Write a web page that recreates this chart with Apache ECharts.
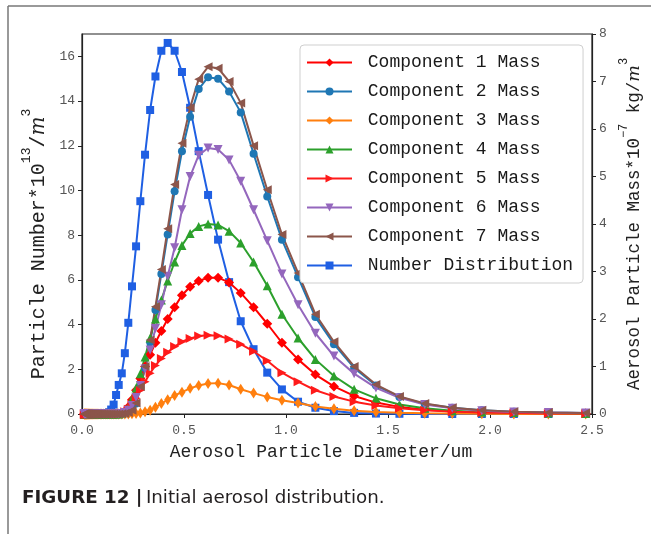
<!DOCTYPE html>
<html>
<head>
<meta charset="utf-8">
<script src="https://cdn.jsdelivr.net/npm/echarts@6/dist/echarts.min.js"></script>
<style>
html,body{margin:0;padding:0;background:#fff;}
#chart{width:651px;height:534px;}
</style>
</head>
<body>
<div id="chart"></div>
<script>
// Aerosol particle diameter (um) - sample points
const diameters = [0.011,0.012,0.013,0.014,0.016,0.017,0.018,0.020,0.021,0.023,
  0.025,0.027,0.029,0.031,0.033,0.036,0.039,0.042,0.045,0.049,
  0.053,0.057,0.061,0.066,0.072,0.077,0.083,0.090,0.097,0.105,
  0.114,0.123,0.133,0.143,0.155,0.167,0.180,0.195,0.210,0.227,
  0.245,0.265,0.286,0.309,0.334,0.360,0.389,0.420,0.454,0.490,
  0.530,0.572,0.618,0.667,0.721,0.778,0.841,0.908,0.980,1.059,
  1.144,1.235,1.334,1.441,1.556,1.680,1.815,1.960,2.117,2.286,2.469];

// Particle number (x1e13 /m^3), left axis
const numberDistribution = [0,0,0,0,0,0,0,0,0,0, 0,0,0,0,0,0,0,0,0,0, 0,0,0,0,0,0,0,0,0,0,
  0.01,0.03,0.08,0.2,0.42,0.85,1.3,1.82,2.72,4.08,
  5.71,7.5,9.52,11.6,13.6,15.1,16.25,16.6,16.25,15.3,
  13.7,11.76,9.8,7.8,5.9,4.15,2.9,1.85,1.1,0.55,
  0.28,0.13,0.05,0.02,0.01,0,0,0,0,0,0];

// Component masses (x1e-7 kg/m^3), right axis
const comp1 = [0,0,0,0,0,0,0,0,0,0, 0,0,0,0,0,0,0,0,0,0, 0,0,0,0,0,0,0,0,0,0, 0,0,0,0,0,0,0,
  0.02,0.06,0.15,0.3,0.5,0.75,1.0,1.25,1.5,1.75,2.0,2.25,2.5,2.68,2.8,2.87,2.87,2.77,2.55,2.25,1.9,1.5,1.15,0.83,0.58,0.38,0.24,0.15,0.09,0.05,0.03,0.02,0.01,0.01];
const comp2 = [0,0,0,0,0,0,0,0,0,0, 0,0,0,0,0,0,0,0,0,0, 0,0,0,0,0,0,0,0,0,0, 0,0,0,0,0,0,0,
  0.005,0.01,0.03,0.08,0.22,0.56,0.97,1.51,2.19,2.95,3.78,4.69,5.53,6.26,6.84,7.09,7.06,6.79,6.35,5.48,4.58,3.67,2.88,2.04,1.47,0.97,0.6,0.36,0.21,0.13,0.08,0.05,0.03,0.02];
const comp3 = [0,0,0,0,0,0,0,0,0,0, 0,0,0,0,0,0,0,0,0,0, 0,0,0,0,0,0,0,0,0,0, 0,0,0,0,0,0,0,
  0,0,0,0.005,0.01,0.02,0.05,0.08,0.14,0.22,0.3,0.39,0.46,0.54,0.6,0.64,0.65,0.61,0.52,0.44,0.36,0.29,0.23,0.16,0.11,0.07,0.04,0.025,0.015,0.01,0.005,0,0,0];
const comp4 = [0,0,0,0,0,0,0,0,0,0, 0,0,0,0,0,0,0,0,0,0, 0,0,0,0,0,0,0,0,0,0, 0,0,0,0,0,0,0,
  0.02,0.06,0.15,0.32,0.55,0.85,1.2,1.6,2.0,2.4,2.8,3.2,3.55,3.8,3.95,4.0,3.98,3.85,3.6,3.2,2.7,2.1,1.6,1.15,0.8,0.52,0.33,0.2,0.12,0.07,0.04,0.03,0.02,0.01];
const comp5 = [0,0,0,0,0,0,0,0,0,0, 0,0,0,0,0,0,0,0,0,0, 0,0,0,0,0,0,0,0,0,0, 0,0,0,0,0,0,0,
  0.02,0.05,0.1,0.2,0.33,0.5,0.68,0.86,1.02,1.17,1.3,1.42,1.52,1.59,1.64,1.66,1.65,1.58,1.47,1.32,1.12,0.87,0.68,0.5,0.37,0.26,0.18,0.12,0.08,0.05,0.03,0.02,0.01,0.01];
const comp6 = [0,0,0,0,0,0,0,0,0,0, 0,0,0,0,0,0,0,0,0,0, 0,0,0,0,0,0,0,0,0,0, 0,0,0,0,0,0,0,
  0.01,0.03,0.08,0.18,0.35,0.6,0.95,1.35,1.8,2.3,2.9,3.5,4.3,5.0,5.45,5.6,5.57,5.35,4.9,4.3,3.65,2.95,2.3,1.7,1.22,0.85,0.55,0.34,0.2,0.12,0.07,0.04,0.03,0.02];
const comp7 = [0,0,0,0,0,0,0,0,0,0, 0,0,0,0,0,0,0,0,0,0, 0,0,0,0,0,0,0,0,0,0, 0,0,0,0,0,0,0,
  0.005,0.01,0.03,0.08,0.23,0.58,1.0,1.56,2.26,3.04,3.9,4.83,5.7,6.45,7.05,7.31,7.28,7.0,6.55,5.65,4.72,3.78,2.97,2.1,1.52,1.0,0.62,0.37,0.22,0.13,0.08,0.05,0.03,0.02];

const seriesNames = ['Component 1 Mass','Component 2 Mass','Component 3 Mass','Component 4 Mass',
  'Component 5 Mass','Component 6 Mass','Component 7 Mass','Number Distribution'];
const xTicks = [0, 0.5, 1.0, 1.5, 2.0, 2.5];

const MONO = 'Liberation Mono, DejaVu Sans Mono, monospace';
const pair = arr => diameters.map((d, i) => [d, arr[i]]);

function mk(name, data, axis, color, symbol, size, rotate, z) {
  return {
    name: name, type: 'line', yAxisIndex: axis, data: pair(data),
    symbol: symbol, symbolSize: size, symbolRotate: rotate || 0,
    showSymbol: true, showAllSymbol: true,
    lineStyle: {color: color, width: 2},
    itemStyle: {color: color, borderWidth: 0},
    emphasis: {disabled: true}, z: z, animation: false
  };
}

const chart = echarts.init(document.getElementById('chart'), null, {renderer: 'canvas'});
const option = {
  animation: false,
  backgroundColor: '#fff',
  grid: {left: 82, right: 58, top: 34, bottom: 120, show: true, borderColor: '#222', borderWidth: 1.2, backgroundColor: 'transparent'},
  legend: {
    data: seriesNames, orient: 'vertical', left: 300, top: 45,
    padding: [8, 10, 8, 6], itemWidth: 45, itemHeight: 10, itemGap: 10,
    borderColor: '#cfcfcf', borderWidth: 1, borderRadius: 4, backgroundColor: '#fff',
    formatter: n => ' ' + n,
    textStyle: {fontFamily: MONO, fontSize: 18, color: '#1a1a1a', lineHeight: 19},
    selectedMode: false
  },
  xAxis: {
    type: 'value', min: 0, max: 2.5, interval: 0.5,
    name: 'Aerosol Particle Diameter/um', nameLocation: 'middle', nameGap: 29,
    nameTextStyle: {fontFamily: MONO, fontSize: 18, color: '#222', padding: [0, 32, 0, 0]},
    axisLine: {show: true, lineStyle: {color: '#222', width: 1.2}},
    axisTick: {show: true, inside: false, length: 4, lineStyle: {color: '#222'}},
    axisLabel: {fontFamily: MONO, fontSize: 13, color: '#555', margin: 10, formatter: v => v.toFixed(1)},
    splitLine: {show: false}
  },
  yAxis: [{
    type: 'value', min: 0, max: 17, interval: 2, position: 'left',
    name: '{a|Particle Number*10}{s|13}{a|/}{i|m}{s|3}', nameLocation: 'middle', nameGap: 31, nameRotate: 90,
    nameTextStyle: {fontFamily: MONO, fontSize: 20, color: '#222', padding: [0, 40, 0, 0],
      rich: {
        a: {fontFamily: MONO, fontSize: 20, color: '#222', lineHeight: 28, verticalAlign: 'bottom'},
        s: {fontFamily: MONO, fontSize: 13, color: '#222', lineHeight: 28, verticalAlign: 'top'},
        i: {fontFamily: 'DejaVu Serif, serif', fontStyle: 'italic', fontSize: 20, color: '#222', lineHeight: 28, verticalAlign: 'bottom'}
      }},
    axisLine: {show: true, lineStyle: {color: '#222', width: 1.2}},
    axisTick: {show: true, inside: false, length: 4, lineStyle: {color: '#222'}},
    axisLabel: {fontFamily: MONO, fontSize: 13, color: '#555', margin: 7, showMaxLabel: false},
    splitLine: {show: false}
  }, {
    type: 'value', min: 0, max: 8, interval: 1, position: 'right',
    name: '{a|Aerosol Particle Mass*10}{s|−7}{a| kg/}{i|m}{s|3}', nameLocation: 'middle', nameGap: 26, nameRotate: 90,
    nameTextStyle: {fontFamily: MONO, fontSize: 17.5, color: '#222',
      rich: {
        a: {fontFamily: MONO, fontSize: 17.5, color: '#222', lineHeight: 25, verticalAlign: 'bottom'},
        s: {fontFamily: MONO, fontSize: 12, color: '#222', lineHeight: 25, verticalAlign: 'top'},
        i: {fontFamily: 'DejaVu Serif, serif', fontStyle: 'italic', fontSize: 17.5, color: '#222', lineHeight: 25, verticalAlign: 'bottom'}
      }},
    axisLine: {show: true, lineStyle: {color: '#222', width: 1.2}},
    axisTick: {show: true, inside: false, length: 4, lineStyle: {color: '#222'}},
    axisLabel: {fontFamily: MONO, fontSize: 13, color: '#555', margin: 7},
    splitLine: {show: false}
  }],
  series: [
    mk(seriesNames[7], numberDistribution, 0, '#1f5fe3', 'rect', 8, 0, 2),
    mk(seriesNames[0], comp1, 1, '#ff0000', 'diamond', 10, 0, 3),
    mk(seriesNames[1], comp2, 1, '#1f77b4', 'circle', 8, 0, 3),
    mk(seriesNames[2], comp3, 1, '#ff7f0e', 'diamond', [7, 11], 0, 3),
    mk(seriesNames[3], comp4, 1, '#2ca02c', 'triangle', 9, 0, 3),
    mk(seriesNames[4], comp5, 1, '#ff1a1a', 'triangle', 9, -90, 3),
    mk(seriesNames[5], comp6, 1, '#9467bd', 'triangle', 9, 180, 3),
    mk(seriesNames[6], comp7, 1, '#8c564b', 'triangle', 9, 90, 3)
  ],
  graphic: [
    {type: 'line', shape: {x1: 8, y1: 6, x2: 651, y2: 6}, style: {stroke: '#777', lineWidth: 1.5}, silent: true},
    {type: 'line', shape: {x1: 8, y1: 6, x2: 8, y2: 534}, style: {stroke: '#777', lineWidth: 1.5}, silent: true},
    {type: 'text', left: 22, top: 489, silent: true,
      style: {text: '{b|FIGURE 12 |} {n|Initial aerosol distribution.}',
        rich: {
          b: {fontFamily: 'DejaVu Sans, sans-serif', fontWeight: 'bold', fontSize: 18.3, fill: '#231f20'},
          n: {fontFamily: 'DejaVu Sans, sans-serif', fontSize: 18.3, fill: '#231f20'}
        }}}
  ]
};
chart.setOption(option);
</script>
</body>
</html>
